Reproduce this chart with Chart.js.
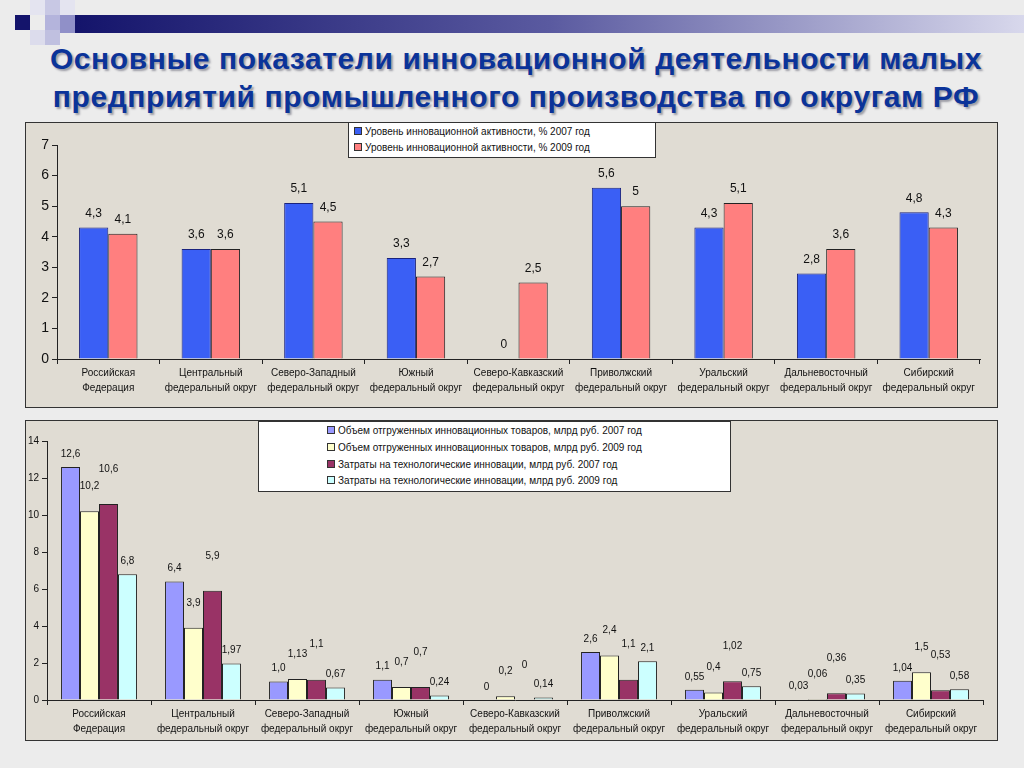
<!DOCTYPE html>
<html>
<head>
<meta charset="utf-8">
<script src="https://cdn.jsdelivr.net/npm/chart.js@4.4.1/dist/chart.umd.min.js"></script>
<style>
  body { margin: 0; width: 1024px; height: 768px; background: #ececec; position: relative; overflow: hidden; font-family: "Liberation Sans", Arial, sans-serif; }
  .sq { position: absolute; }
  #bar { position: absolute; left: 75px; top: 15px; width: 949px; height: 18px; background: linear-gradient(to right, #14146b, #5a5aa0 50%, #d8d8ec); }
  h1 { position: absolute; left: 0; top: 40px; width: 1032px; margin: 0; text-align: center; font-size: 30px; letter-spacing: 0.6px; line-height: 38px; font-weight: bold; color: #0b3399; text-shadow: 2px 2px 2px rgba(60,60,80,0.45); }
  .panel { position: absolute; background: #e0dcd3; border: 1px solid #333; box-sizing: border-box; }
  .legend { position: absolute; background: #fff; border: 1px solid #333; box-sizing: border-box; font-size: 10px; color: #111; }
  .legend div { position: absolute; white-space: nowrap; }
  .legend span { display: inline-block; width: 6px; height: 6px; border: 1px solid #333; margin-right: 3px; vertical-align: 0px; }
</style>
</head>
<body>
<div class="sq" style="left:15px;top:15px;width:15px;height:15px;background:#14146b"></div>
<div class="sq" style="left:30px;top:0;width:15px;height:15px;background:#e4e4f0"></div>
<div class="sq" style="left:45px;top:0;width:15px;height:15px;background:#c8c8e4"></div>
<div class="sq" style="left:60px;top:0;width:15px;height:15px;background:#e4e4f0"></div>
<div class="sq" style="left:45px;top:15px;width:15px;height:15px;background:#b4b4dc"></div>
<div class="sq" style="left:60px;top:15px;width:15px;height:18px;background:#9090c8"></div>
<div class="sq" style="left:30px;top:30px;width:15px;height:15px;background:#dcdcec"></div>
<div class="sq" style="left:45px;top:30px;width:15px;height:15px;background:#c0c0e0"></div>
<div id="bar"></div>
<h1>Основные показатели инновационной деятельности малых<br>предприятий промышленного производства по округам РФ</h1>

<div class="panel" style="left:25px;top:122px;width:973px;height:286px"><canvas id="top"></canvas></div>
<div class="legend" style="left:348px;top:122px;width:308px;height:36px">
  <div style="left:5px;top:3px"><span style="background:#3a5ff5"></span>Уровень инновационной активности, % 2007 год</div>
  <div style="left:5px;top:19px"><span style="background:#ff7f7f"></span>Уровень инновационной активности, % 2009 год</div>
</div>

<div class="panel" style="left:25px;top:420px;width:973px;height:321px"><canvas id="bottom"></canvas></div>
<div class="legend" style="left:258px;top:421px;width:473px;height:71px">
  <div style="left:68px;top:3px"><span style="background:#9999ff"></span>Объем отгруженных инновационных товаров, млрд руб. 2007 год</div>
  <div style="left:68px;top:20px"><span style="background:#ffffcc"></span>Объем отгруженных инновационных товаров, млрд руб. 2009 год</div>
  <div style="left:68px;top:37px"><span style="background:#993366"></span>Затраты на технологические инновации, млрд руб. 2007 год</div>
  <div style="left:68px;top:53px"><span style="background:#ccffff"></span>Затраты на технологические инновации, млрд руб. 2009 год</div>
</div>

<script>
const districts = [
  ['Российская', 'Федерация'],
  ['Центральный', 'федеральный округ'],
  ['Северо-Западный', 'федеральный округ'],
  ['Южный', 'федеральный округ'],
  ['Северо-Кавказский', 'федеральный округ'],
  ['Приволжский', 'федеральный округ'],
  ['Уральский', 'федеральный округ'],
  ['Дальневосточный', 'федеральный округ'],
  ['Сибирский', 'федеральный округ']
]

const activity2007 = [4.3, 3.6, 5.1, 3.3, 0, 5.6, 4.3, 2.8, 4.8]
const activity2009 = [4.1, 3.6, 4.5, 2.7, 2.5, 5, 5.1, 3.6, 4.3]

const shipped2007 = [12.6, 6.4, 1.0, 1.1, 0, 2.6, 0.55, 0.03, 1.04]
const shipped2009 = [10.2, 3.9, 1.13, 0.7, 0.2, 2.4, 0.4, 0.06, 1.5]
const costs2007 = [10.6, 5.9, 1.1, 0.7, 0, 1.1, 1.02, 0.36, 0.53]
const costs2009 = [6.8, 1.97, 0.67, 0.24, 0.14, 2.1, 0.75, 0.35, 0.58]

const fmt = (v, ds) => (ds.keepDecimal && v === 1) ? '1,0' : String(v).replace('.', ',')

// draws the value above each bar
const valueLabels = {
  id: 'valueLabels',
  afterDatasetsDraw(chart, args, opts) {
    const ctx = chart.ctx
    ctx.save()
    ctx.font = opts.size + 'px "Liberation Sans", Arial, sans-serif'
    ctx.fillStyle = '#111'
    ctx.textAlign = 'center'
    ctx.textBaseline = 'bottom'
    chart.data.datasets.forEach((ds, i) => {
      const gap = ds.labelGap || opts.gap
      chart.getDatasetMeta(i).data.forEach((bar, j) => {
        ctx.fillText(fmt(ds.data[j], ds), bar.x, bar.y - gap)
      })
    })
    ctx.restore()
  }
}

const font = size => ({ size: size, family: '"Liberation Sans", Arial, sans-serif', lineHeight: 1.45 })

function makeChart(id, datasets, opts) {
  new Chart(document.getElementById(id), {
    type: 'bar',
    data: { labels: districts, datasets: datasets },
    plugins: [valueLabels],
    options: {
      responsive: true,
      maintainAspectRatio: false,
      animation: false,
      layout: { padding: opts.padding },
      datasets: { bar: { barPercentage: 1, categoryPercentage: opts.cat, borderColor: '#222', borderWidth: 1 } },
      plugins: {
        legend: { display: false },
        tooltip: { enabled: false },
        valueLabels: { size: opts.labelSize, gap: opts.gap }
      },
      scales: {
        x: {
          border: { color: '#222', width: 1 },
          grid: { drawOnChartArea: false, color: '#222', tickLength: 5 },
          afterFit: s => { s.height = opts.xHeight },
          ticks: { color: '#111', maxRotation: 0, autoSkip: false, padding: 2, font: font(10) }
        },
        y: {
          min: 0, max: opts.max,
          border: { color: '#222', width: 1 },
          grid: { drawOnChartArea: false, color: '#222', tickLength: 5 },
          afterFit: s => { s.width = opts.yWidth },
          ticks: { color: '#111', stepSize: opts.step, padding: 3, font: font(opts.ySize) }
        }
      }
    }
  })
}

makeChart('top', [
  { label: 'Уровень инновационной активности, % 2007 год', data: activity2007, backgroundColor: '#3a5ff5', borderColor: '#1a237e' },
  { label: 'Уровень инновационной активности, % 2009 год', data: activity2009, backgroundColor: '#ff7f7f' }
], { padding: { left: 4, right: 17, top: 22, bottom: 0 }, cat: 0.57, xHeight: 48, yWidth: 27, max: 7, step: 1, ySize: 14, labelSize: 12, gap: 8 })

makeChart('bottom', [
  { label: 'Объем отгруженных инновационных товаров, млрд руб. 2007 год', data: shipped2007, backgroundColor: '#9999ff', keepDecimal: true, labelGap: 8 },
  { label: 'Объем отгруженных инновационных товаров, млрд руб. 2009 год', data: shipped2009, backgroundColor: '#ffffcc', labelGap: 20 },
  { label: 'Затраты на технологические инновации, млрд руб. 2007 год', data: costs2007, backgroundColor: '#993366', labelGap: 30 },
  { label: 'Затраты на технологические инновации, млрд руб. 2009 год', data: costs2009, backgroundColor: '#ccffff', labelGap: 8 }
], { padding: { left: 2, right: 14, top: 20, bottom: 0 }, cat: 0.73, xHeight: 40, yWidth: 19, max: 14, step: 2, ySize: 10, labelSize: 10, gap: 8 })
</script>
</body>
</html>
